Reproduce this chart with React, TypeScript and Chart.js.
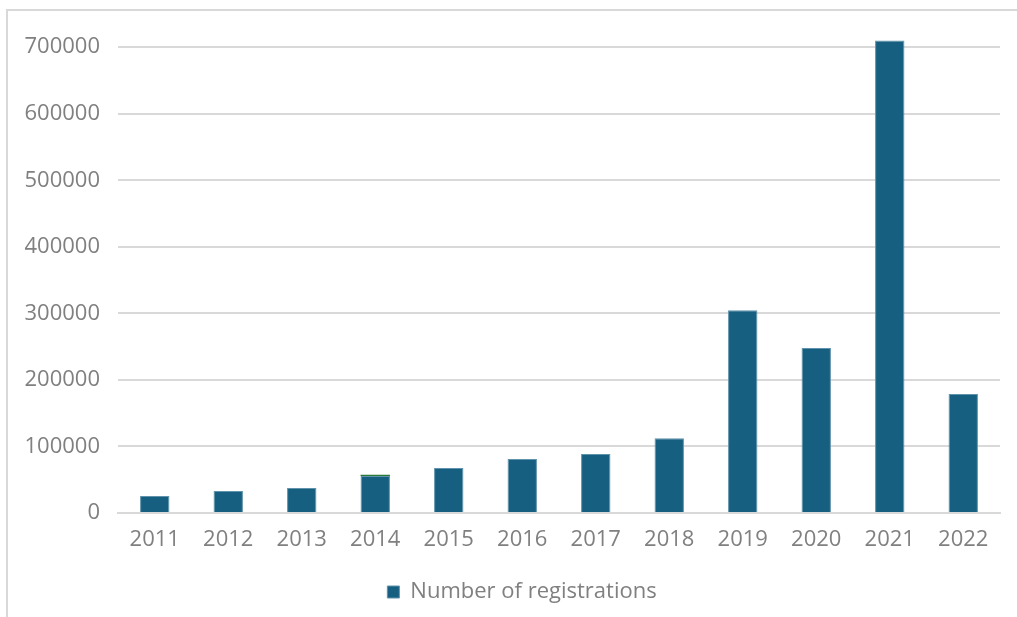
import React, { useEffect, useRef } from "react";
import { Chart, registerables } from "chart.js";

Chart.register(...registerables);

const years = ["2011", "2012", "2013", "2014", "2015", "2016", "2017", "2018", "2019", "2020", "2021", "2022"];
const registrations = [25500, 33000, 37500, 55600, 67500, 81000, 88500, 112500, 304500, 248000, 710000, 178800];
const extraSegment = [0, 0, 0, 2000, 0, 0, 0, 0, 0, 0, 0, 0];
const yTicks = [0, 100000, 200000, 300000, 400000, 500000, 600000, 700000];

const FONT = "'Open Sans', 'Noto Sans', sans-serif";
const GRAY = "#808080";

const legendShift = {
  id: "legendShift",
  afterLayout(chart: any) {
    const lg = chart.legend;
    if (lg) {
      lg.left += 22;
      lg.right += 22;
    }
  },
};

export default function App() {
  const ref = useRef<HTMLCanvasElement | null>(null);
  useEffect(() => {
    if (!ref.current) return;
    const chart = new Chart(ref.current, {
      type: "bar",
      data: {
        labels: years,
        datasets: [
          {
            label: "Number of registrations",
            data: registrations,
            backgroundColor: "#165f80",
            borderColor: "#5f93ab",
            borderWidth: 1,
            barPercentage: 0.4,
            categoryPercentage: 1,
          },
          {
            label: "extra",
            data: extraSegment,
            backgroundColor: "#2a7a3a",
            barPercentage: 0.4,
            categoryPercentage: 1,
          },
        ],
      },
      options: {
        animation: false,
        responsive: false,
        maintainAspectRatio: false,
        layout: { padding: { top: 0, right: 17, bottom: 4, left: 0 } },
        plugins: {
          tooltip: { enabled: false },
          legend: {
            position: "bottom",
            labels: {
              filter: (item) => item.text !== "extra",
              boxWidth: 12,
              boxHeight: 12,
              padding: 10,
              color: GRAY,
              font: { family: FONT, size: 22 },
            },
          },
        },
        scales: {
          x: {
            stacked: true,
            grid: { display: false },
            border: { display: true, color: "#d9d9d9", width: 2 },
            ticks: { color: GRAY, font: { family: FONT, size: 22 }, padding: 6 },
            afterFit: (s: any) => { s.height = 58; },
          },
          y: {
            stacked: true,
            min: 0,
            max: 724000,
            afterBuildTicks: (s: any) => {
              s.ticks = yTicks.map((v) => ({ value: v }));
            },
            grid: { color: "#d9d9d9", lineWidth: 2, drawTicks: false },
            border: { display: false },
            ticks: {
              color: GRAY,
              font: { family: FONT, size: 22 },
              padding: 18,
              callback: (v: any) => String(v),
            },
            afterFit: (s: any) => { s.width = 118; },
          },
        },
      },
      plugins: [legendShift],
    });
    return () => chart.destroy();
  }, []);

  return (
    <div style={{ position: "fixed", left: 0, top: 0, width: 1017, height: 617, background: "#fff", overflow: "hidden" }}>
      <div style={{ position: "absolute", left: 6, top: 9, width: 1030, height: 630, border: "2px solid #d9d9d9", boxSizing: "border-box" }} />
      <canvas ref={ref} width={1017} height={617} style={{ position: "absolute", left: 0, top: 0 }} />
    </div>
  );
}
